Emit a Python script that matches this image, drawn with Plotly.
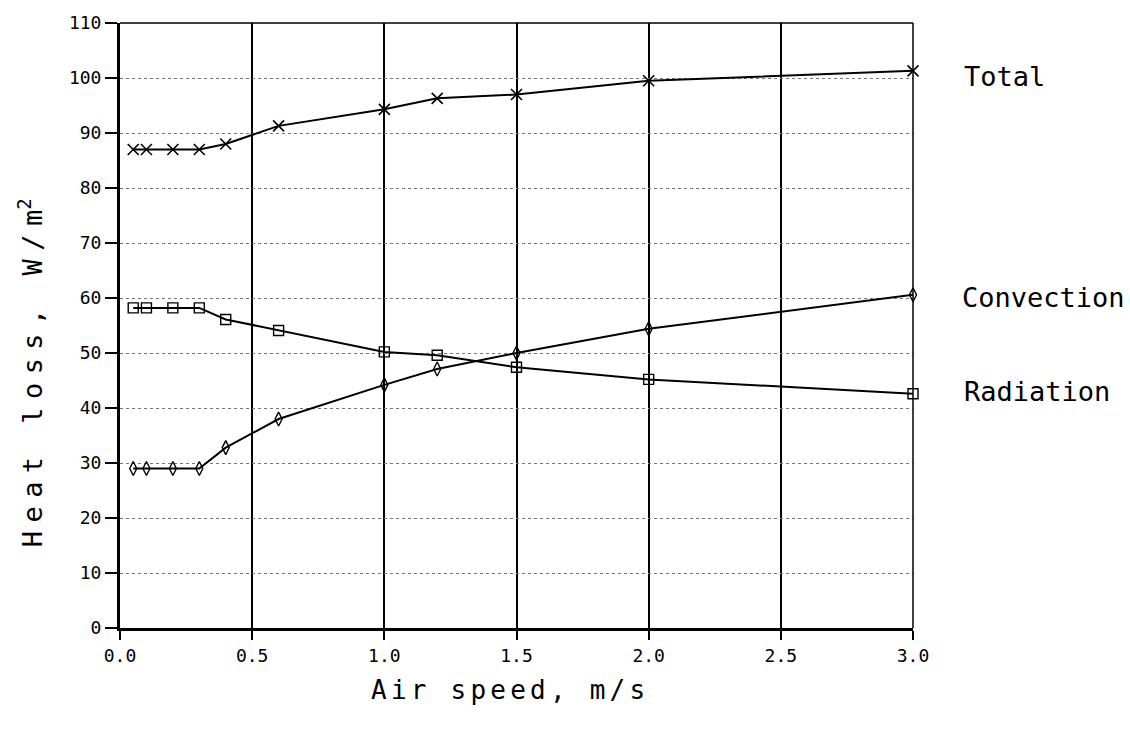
import plotly.graph_objects as go

air_speed = [0.05, 0.1, 0.2, 0.3, 0.4, 0.6, 1.0, 1.2, 1.5, 2.0, 3.0]
total = [87, 87, 87, 87, 88, 91.3, 94.3, 96.3, 97, 99.5, 101.3]
convection = [29, 29, 29, 29, 32.8, 38, 44.2, 47.1, 50, 54.4, 60.6]
radiation = [58.2, 58.2, 58.2, 58.2, 56.1, 54.1, 50.2, 49.6, 47.4, 45.2, 42.6]
x_ticks = [0.0, 0.5, 1.0, 1.5, 2.0, 2.5, 3.0]
y_ticks = list(range(0, 111, 10))
series_labels = ["Total", "Convection", "Radiation"]

FONT = "DejaVu Sans Mono"

def spaced(text, spacer_px):
    sp = f"<span style='font-size:{spacer_px}px'>\u00a0</span>"
    return sp.join(list(text))

fig = go.Figure()
fig.add_trace(go.Scatter(x=air_speed, y=total, mode="lines+markers",
                         line=dict(color="black", width=2),
                         marker=dict(symbol="x-thin-open", size=11,
                                     line=dict(color="black", width=1.6)),
                         cliponaxis=False, showlegend=False))
fig.add_trace(go.Scatter(x=air_speed, y=convection, mode="lines+markers",
                         line=dict(color="black", width=2),
                         marker=dict(symbol="diamond-tall-open", size=10, color="black",
                                     line=dict(color="black", width=1.4)),
                         cliponaxis=False, showlegend=False))
fig.add_trace(go.Scatter(x=air_speed, y=radiation, mode="lines+markers",
                         line=dict(color="black", width=2),
                         marker=dict(symbol="square-open", size=10, color="black",
                                     line=dict(color="black", width=1.4)),
                         cliponaxis=False, showlegend=False))

W, H = 1130, 733
L, R, T, B = 120, 217, 20, 105
pw, ph = W - L - R, H - T - B

def px(xp):
    return (xp - L) / pw

def py(yp):
    return (H - B - yp) / ph

annotations = [
    dict(text=series_labels[0], x=px(962), y=py(74), xanchor="left", yanchor="middle"),
    dict(text=series_labels[1], x=px(960), y=py(296), xanchor="left", yanchor="middle"),
    dict(text=series_labels[2], x=px(962), y=py(390), xanchor="left", yanchor="middle"),
]
for a in annotations:
    a.update(xref="paper", yref="paper", showarrow=False,
             font=dict(family=FONT, size=27, color="black"))

annotations.append(dict(text=spaced("Air speed, m/s", 7), x=px(508), y=py(690),
                        xref="paper", yref="paper", showarrow=False,
                        xanchor="center", yanchor="middle",
                        font=dict(family=FONT, size=26, color="black")))
annotations.append(dict(text=spaced("Heat loss, W/m", 14) + "<sup>2</sup>", x=px(30), y=py(372),
                        xref="paper", yref="paper", showarrow=False, textangle=-90,
                        xanchor="center", yanchor="middle",
                        font=dict(family=FONT, size=27, color="black")))

fig.update_layout(
    width=W, height=H,
    margin=dict(l=L, r=R, t=T, b=B, pad=0),
    paper_bgcolor="white", plot_bgcolor="white",
    annotations=annotations,
    shapes=[
        dict(type="line", xref="paper", yref="paper", x0=0, x1=1, y0=1, y1=1,
             line=dict(color="black", width=1.5)),
        dict(type="line", xref="paper", yref="paper", x0=1, x1=1, y0=0, y1=1,
             line=dict(color="black", width=1.5)),
    ],
)
fig.update_xaxes(range=[0, 3], tickvals=x_ticks, ticktext=[f"{v:.1f}" for v in x_ticks],
                 showline=True, linecolor="black", linewidth=3,
                 ticks="outside", ticklen=9, tickwidth=1.5, tickcolor="black",
                 showgrid=True, gridcolor="black", gridwidth=2, zeroline=False,
                 tickfont=dict(family=FONT, size=18, color="black"))
fig.update_yaxes(range=[0, 110], tickvals=y_ticks, ticktext=[str(v) for v in y_ticks],
                 showline=True, linecolor="black", linewidth=3,
                 ticks="outside", ticklen=12, tickwidth=1.5, tickcolor="black",
                 showgrid=True, gridcolor="#777777", gridwidth=1, griddash="dot", zeroline=False,
                 tickfont=dict(family=FONT, size=18, color="black"))

fig.write_html("out.html")
